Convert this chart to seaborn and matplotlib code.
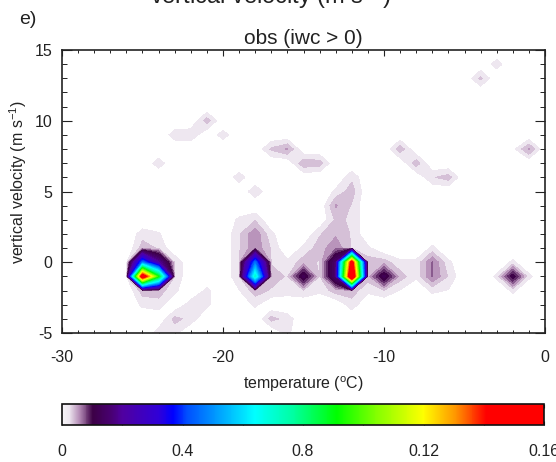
import numpy as np
import matplotlib
matplotlib.use("Agg")
import matplotlib.pyplot as plt
import seaborn as sns
from matplotlib.colors import LinearSegmentedColormap, Normalize
from matplotlib.ticker import MultipleLocator

# ---------------- data (grid values) ----------------
temp_axis = np.arange(-30, 1, 1)      # temperature grid (deg C)
vel_axis = np.arange(-5, 16, 1)       # vertical velocity grid (m/s)

temp_pts = [
    -25, -25, -25, -25, -25, -25, -24, -24, -24, -24, -24, -24, -23, -23, -23,
    -24, -23, -23, -22, -22, -21, -21,
    -19, -19, -19, -19, -19, -19, -18, -18, -18, -18, -18, -18, -18, -17, -17, -17, -17, -17,
    -18, -19, -24, -21, -20, -23, -22, -17, -16, -15, -14,
    -16, -16, -16, -17, -16, -16, -15, -15, -15, -15, -14, -14, -14, -14, -14,
    -13, -13, -13, -13, -13, -13, -13, -13,
    -12, -12, -12, -12, -12, -12, -12, -12, -12, -12,
    -11, -11, -11, -11,
    -10, -10, -10, -9, -9, -9, -8, -8,
    -7, -7, -7, -7, -6, -6, -6,
    -3, -2, -2, -2, -1,
    -9, -8, -7, -6, -2, -1, -4, -3,
]
vel_pts = [
    2, 1, 0, -1, -2, -3, 2, 1, 0, -1, -2, -3, 0, -1, -2,
    -5, -5, -4, -4, -3, -3, -2,
    3, 2, 1, 0, -1, -2, 3, 2, 1, 0, -1, -2, -3, 2, 1, 0, -1, -2,
    5, 6, 7, 10, 9, 9, 9, 8, 8, 7, 7,
    -1, 0, -2, -4, -4, -5, 1, 0, -1, -2, 2, 1, 0, -1, -2,
    5, 4, 3, 2, 1, 0, -1, -2,
    6, 5, 4, 3, 2, 1, 0, -1, -2, -3,
    1, 0, -1, -2,
    0, -1, -2, 0, -1, -2, 0, -1,
    1, 0, -1, -2, 0, -1, -2,
    -1, 0, -1, -2, -1,
    8, 7, 6, 6, 8, 8, 13, 14,
]
freq_vals = [
    0.0025, 0.004, 0.045, 0.155, 0.004, 0.002, 0.0018, 0.003, 0.020, 0.090, 0.004, 0.0025,
    0.003, 0.003, 0.002,
    0.0025, 0.002, 0.0038, 0.0025, 0.0025, 0.002, 0.002,
    0.002, 0.003, 0.003, 0.003, 0.003, 0.0015, 0.003, 0.006, 0.006, 0.045, 0.070, 0.004, 0.002,
    0.002, 0.003, 0.003, 0.004, 0.003,
    0.0028, 0.0025, 0.0025, 0.004, 0.0024, 0.0025, 0.0028, 0.0035, 0.005, 0.0045, 0.004,
    0.003, 0.002, 0.0025, 0.0038, 0.0025, 0.002, 0.002, 0.004, 0.012, 0.003,
    0.003, 0.004, 0.003, 0.003, 0.002,
    0.002, 0.005, 0.0035, 0.0045, 0.006, 0.015, 0.015, 0.004,
    0.0028, 0.004, 0.003, 0.003, 0.003, 0.003, 0.150, 0.170, 0.004, 0.0025,
    0.002, 0.004, 0.004, 0.002,
    0.004, 0.012, 0.003, 0.002, 0.004, 0.0015, 0.002, 0.002,
    0.002, 0.0065, 0.0065, 0.002, 0.002, 0.003, 0.0015,
    0.002, 0.002, 0.011, 0.002, 0.002,
    0.0043, 0.0042, 0.003, 0.004, 0.001, 0.005, 0.0036, 0.0024,
]

cbar_ticks = [0.0, 0.02, 0.04, 0.06, 0.08, 0.10, 0.12, 0.14, 0.16]
cbar_labels = ["0", "", "0.4", "", "0.8", "", "0.12", "", "0.16"]

# ---------------- style ----------------
sns.set_theme(style="white")
plt.rcParams["font.family"] = ["Liberation Sans", "DejaVu Sans"]
plt.rcParams["mathtext.default"] = "regular"
plt.rcParams["axes.unicode_minus"] = False

Z = np.zeros((len(vel_axis), len(temp_axis)))
for t, w, v in zip(temp_pts, vel_pts, freq_vals):
    Z[list(vel_axis).index(w), list(temp_axis).index(t)] = v

cmap = LinearSegmentedColormap.from_list("idl_purple_rainbow", [
    (0.000, "#f7f5f8"),
    (0.015, "#ede6ef"),
    (0.035, "#b48cb6"),
    (0.063, "#3c0046"),
    (0.100, "#480070"),
    (0.125, "#5000a0"),
    (0.200, "#3000d8"),
    (0.230, "#0000ff"),
    (0.260, "#0050ff"),
    (0.400, "#00ffff"),
    (0.480, "#00ffa0"),
    (0.570, "#00ff00"),
    (0.650, "#80ff00"),
    (0.750, "#ffff00"),
    (0.820, "#ff9000"),
    (0.880, "#ff0000"),
    (1.000, "#ff0000"),
], N=512)
cmap.set_over("#ff0000")
norm = Normalize(vmin=0.0, vmax=0.16)

W, H = 556, 462
fig = plt.figure(figsize=(W / 100, H / 100), dpi=100)
fig.patch.set_facecolor("white")

ax = fig.add_axes([62 / W, 1 - 333 / H, 483 / W, 283 / H])
ax.set_facecolor("white")
levels = np.arange(1, 101) * 0.0016
ax.contourf(temp_axis, vel_axis, Z, levels=levels, cmap=cmap, norm=norm,
            extend="max", antialiased=False)
ax.set_xlim(-30, 0)
ax.set_ylim(-5, 15)
ax.xaxis.set_major_locator(MultipleLocator(10))
ax.xaxis.set_minor_locator(MultipleLocator(1))
ax.yaxis.set_major_locator(MultipleLocator(5))
ax.yaxis.set_minor_locator(MultipleLocator(1))
ax.tick_params(axis="x", which="major", direction="in", length=4.1, width=0.8,
               top=True, bottom=True, pad=12, labelsize=11.5, colors="#222222")
ax.tick_params(axis="x", which="minor", direction="in", length=2.0, width=0.7,
               top=True, bottom=True, colors="#222222")
ax.tick_params(axis="y", which="major", direction="in", length=7.2, width=0.8,
               left=True, right=True, pad=7, labelsize=11.5, colors="#222222")
ax.tick_params(axis="y", which="minor", direction="in", length=3.6, width=0.7,
               left=True, right=True, colors="#222222")
for s in ax.spines.values():
    s.set_linewidth(1.2)
    s.set_color("#222222")
    s.set_visible(True)

# colorbar
cax = fig.add_axes([62 / W, 1 - 425 / H, 482 / W, 21 / H])
sm = matplotlib.cm.ScalarMappable(norm=norm, cmap=cmap)
cb = fig.colorbar(sm, cax=cax, orientation="horizontal")
cb.set_ticks(cbar_ticks)
cb.set_ticklabels(cbar_labels)
cax.minorticks_off()
cax.tick_params(axis="x", direction="in", length=3, width=0.8, top=True, bottom=True,
                pad=14, labelsize=11.5, colors="#222222")
cb.outline.set_linewidth(1.2)
cb.outline.set_edgecolor("#111111")

# texts
fig.text(270 / W, 1 - 4 / H, r"vertical velocity (m s$^{-1}$)", ha="center",
         va="baseline", fontsize=17, color="#222222")
fig.text(28 / W, 1 - 20 / H, "e)", ha="center", va="center", fontsize=14, color="#222222")
fig.text(303.5 / W, 1 - 39 / H, "obs (iwc > 0)", ha="center", va="center",
         fontsize=15, color="#222222")
fig.text(303.5 / W, 1 - 384 / H, r"temperature ($^{o}$C)", ha="center", va="center",
         fontsize=11.5, color="#222222")
fig.text(18 / W, 1 - 182 / H, r"vertical velocity (m s$^{-1}$)", rotation=90,
         ha="center", va="center", fontsize=11.5, color="#222222")

fig.savefig("out.png", dpi=100, facecolor="white")
